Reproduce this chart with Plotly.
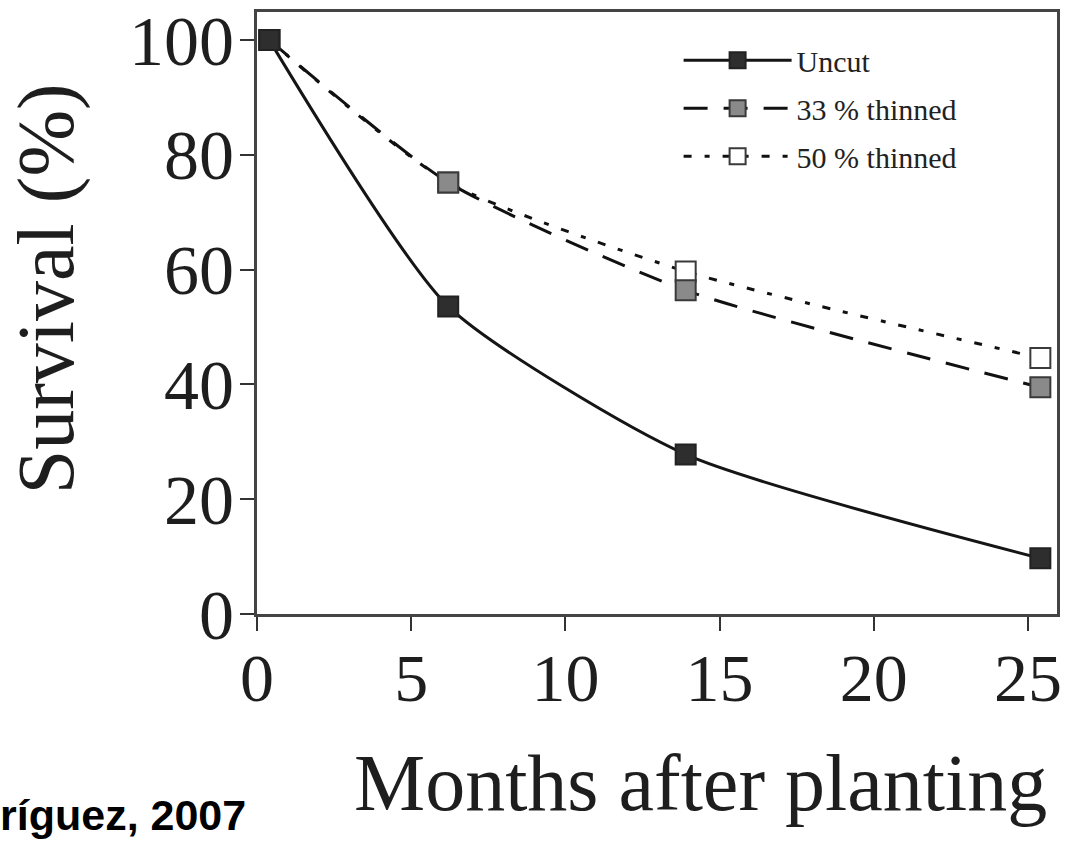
import plotly.graph_objects as go

# Months after planting at which survival was recorded
months = [0.4, 6.2, 13.9, 25.4]

# Survival (%) per treatment
uncut = [100, 53.6, 27.8, 9.7]
thinned_33 = [100, 75.2, 56.4, 39.5]
thinned_50 = [100, 75.2, 59.7, 44.6]

x_ticks = [0, 5, 10, 15, 20, 25]
y_ticks = [0, 20, 40, 60, 80, 100]

serif = "Liberation Serif, Times New Roman, serif"
ink = "#1e1e1e"

fig = go.Figure()

# drawn back to front so the darker markers sit on top
fig.add_trace(go.Scatter(
    x=months, y=thinned_50, name="50 % thinned", legendgroup="c", legendrank=3,
    mode="lines+markers",
    line=dict(color="#111111", width=3, dash="8px,13px,5px,13px", shape="spline", smoothing=0.6),
    marker=dict(symbol="square", size=20, color="#ffffff", line=dict(color="#3a3a3a", width=2)),
))
fig.add_trace(go.Scatter(
    x=months, y=thinned_33, name="33 % thinned", legendgroup="b", legendrank=2,
    mode="lines+markers",
    line=dict(color="#111111", width=3, dash="24px,16px", shape="spline", smoothing=0.6),
    marker=dict(symbol="square", size=20, color="#8a8a8a", line=dict(color="#3a3a3a", width=2)),
))
fig.add_trace(go.Scatter(
    x=months, y=uncut, name="Uncut", legendgroup="a", legendrank=1,
    mode="lines+markers",
    line=dict(color="#151515", width=3, shape="spline", smoothing=0.6),
    marker=dict(symbol="square", size=20, color="#2e2e2e", line=dict(color="#222222", width=2)),
))

fig.update_layout(
    width=1068, height=841,
    margin=dict(l=257, r=11, t=12, b=227),
    paper_bgcolor="white", plot_bgcolor="white",
    font=dict(family=serif, color=ink),
    showlegend=True,
    legend=dict(
        x=0.527, y=0.963, xanchor="left", yanchor="top",
        traceorder="grouped", bgcolor="rgba(0,0,0,0)",
        font=dict(family=serif, size=30, color="#222222"),
        itemwidth=108, tracegroupgap=6,
    ),
    xaxis=dict(
        range=[0, 25.94], tickvals=x_ticks, ticks="outside", ticklen=14, tickwidth=2,
        tickcolor="#333333", showline=True, linecolor="#444444", linewidth=3, mirror=True,
        showgrid=False, zeroline=False, automargin=False,
        tickfont=dict(family=serif, size=68, color=ink), ticklabelstandoff=-12,
    ),
    yaxis=dict(
        range=[0, 104.9], tickvals=y_ticks, ticks="outside", ticklen=14, tickwidth=2,
        tickcolor="#333333", showline=True, linecolor="#444444", linewidth=3, mirror=True,
        showgrid=False, zeroline=False, automargin=False,
        tickfont=dict(family=serif, size=70, color=ink), ticklabelstandoff=-8,
    ),
    annotations=[
        dict(text="Months after planting", xref="paper", yref="paper",
             x=0.554, y=-0.28, xanchor="center", yanchor="middle", showarrow=False,
             font=dict(family=serif, size=80, color=ink)),
        dict(text="Survival (%)", xref="paper", yref="paper", textangle=-90,
             x=-0.262, y=0.54, xanchor="center", yanchor="middle", showarrow=False,
             font=dict(family=serif, size=80, color=ink)),
        dict(text="<b>ríguez, 2007</b>", xref="paper", yref="paper",
             x=-0.324, y=-0.377, xanchor="left", yanchor="bottom", showarrow=False,
             font=dict(family="Liberation Sans, Arial, sans-serif", size=43, color="#000000")),
    ],
)

fig.write_html("out.html")
